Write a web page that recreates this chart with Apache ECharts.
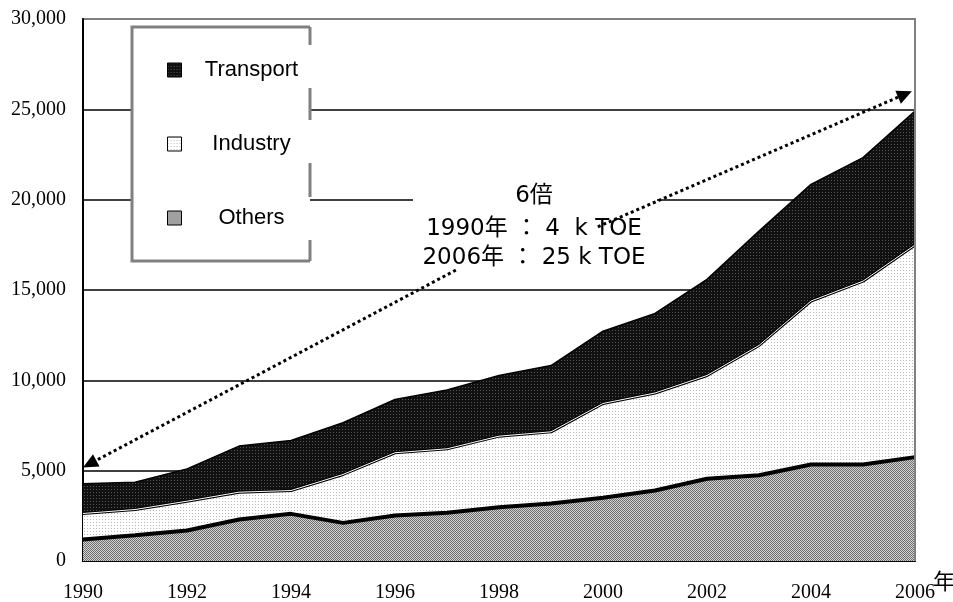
<!DOCTYPE html>
<html><head><meta charset="utf-8">
<script src="https://cdn.jsdelivr.net/npm/echarts@6/dist/echarts.min.js"></script>
<style>html,body{margin:0;padding:0;background:#fff}#c{width:953px;height:602px}</style>
</head><body><div id="c"></div>
<script>
// ---- data ----
const years = ['1990','1991','1992','1993','1994','1995','1996','1997','1998','1999','2000','2001','2002','2003','2004','2005','2006'];
const others    = [1190,1430,1690,2300,2610,2110,2520,2670,2980,3180,3500,3900,4550,4750,5340,5340,5750];
const industry  = [1440,1420,1620,1510,1290,2680,3470,3540,3930,3970,5220,5400,5720,7180,9050,10150,11740];
const transport = [1640,1510,1790,2550,2770,2860,2950,3250,3360,3670,4000,4400,5320,6330,6460,6840,7420];
const legendNames = ['Transport','Industry','Others'];
const xName = '年';
const noteLines = ['6倍','1990年 ： 4  k TOE','2006年 ： 25 k TOE'];
// annotation arrows in data space: [year, value] start -> end (arrow head at end)
const arrowLeft  = [[1997.17,16100],[1990,5180]];
const arrowRight = [[1999.9,18500],[2005.94,26000]];

(function(){
// ---- patterns ----
function makePattern(bg, dot, size, dots){
  const c = document.createElement('canvas'); c.width = size; c.height = size;
  const g = c.getContext('2d'); g.fillStyle = bg; g.fillRect(0,0,size,size);
  g.fillStyle = dot; dots.forEach(d => g.fillRect(d[0], d[1], 1, 1));
  return {image: c, repeat: 'repeat'};
}
const pat = {
  Others: makePattern('#d0d0d0', '#707070', 2, [[0,0],[1,1]]),
  Industry: makePattern('#ffffff', '#b8b8b8', 3, [[0,0]]),
  Transport: makePattern('#111111', '#555555', 3, [[0,0]])
};

const chart = echarts.init(document.getElementById('c'), null, {renderer:'canvas'});
const serifFont = 'Liberation Serif';
const gridColors = ['#000','#000','#000','#000','#000','#000','#808080'];

chart.setOption({
  animation: false,
  backgroundColor: '#fff',
  grid: {left: 83, right: 38, top: 19, bottom: 41, containLabel: false, outerBoundsMode: 'none',
         show: true, borderColor: '#808080', borderWidth: 2, backgroundColor: 'transparent'},
  legend: {
    z: 20, orient: 'vertical', left: 167, top: 59, padding: 0, itemWidth: 14, itemHeight: 14, itemGap: 52,
    selectedMode: false,
    data: legendNames.map(n => ({name: n, icon: 'rect', itemStyle: {color: pat[n], borderColor: '#000', borderWidth: 1}})),
    formatter: '{c|{name}}',
    textStyle: {rich: {c: {width: 130, align: 'center', fontSize: 22, lineHeight: 22, fontFamily: 'Liberation Sans', color: '#000'}}}
  },
  xAxis: {
    type: 'category', data: years, boundaryGap: false,
    name: xName, nameLocation: 'end', nameGap: 18, nameMoveOverlap: false,
    nameTextStyle: {fontFamily: 'Noto Sans CJK JP', fontSize: 22, color: '#000', verticalAlign: 'top', padding: [9,0,0,0]},
    axisLine: {lineStyle: {color: '#000', width: 2}},
    axisTick: {show: true, inside: true, length: 5, interval: 0, lineStyle: {color: '#000', width: 1.5}},
    axisLabel: {interval: 1, margin: 22, fontFamily: serifFont, fontSize: 20, color: '#000'},
    splitLine: {show: false}
  },
  yAxis: {
    type: 'value', min: 0, max: 30000, interval: 5000,
    axisLine: {show: true, lineStyle: {color: '#000', width: 2}},
    axisTick: {show: false},
    axisLabel: {margin: 17, fontFamily: serifFont, fontSize: 20, color: '#000',
      formatter: v => v.toLocaleString('en-US')},
    splitLine: {show: true, lineStyle: {color: gridColors, width: 1.5}}
  },
  series: [
    {name: 'Others', type: 'line', stack: 'total', data: others, symbol: 'none',
     lineStyle: {color: '#000', width: 4}, areaStyle: {color: pat.Others, opacity: 1},
     itemStyle: {color: pat.Others}},
    {name: 'Industry', type: 'line', stack: 'total', data: industry, symbol: 'none',
     lineStyle: {color: '#000', width: 3}, areaStyle: {color: pat.Industry, opacity: 1},
     itemStyle: {color: pat.Industry}},
    {name: 'Transport', type: 'line', stack: 'total', data: transport, symbol: 'none',
     lineStyle: {color: '#000', width: 1.5}, areaStyle: {color: pat.Transport, opacity: 1},
     itemStyle: {color: pat.Transport}},
    {name: 'sep', type: 'line', data: others.map((v,i) => v + industry[i]), symbol: 'none', z: 5,
     silent: true, lineStyle: {color: '#fff', width: 1}}
  ]
});

// ---- annotations ----
function toPx(pt){
  const a = chart.convertToPixel({gridIndex: 0}, [years[0], 0]);
  const b = chart.convertToPixel({gridIndex: 0}, [years[years.length-1], 0]);
  const y = chart.convertToPixel({yAxisIndex: 0}, pt[1]);
  const f = (pt[0] - Number(years[0])) / (Number(years[years.length-1]) - Number(years[0]));
  return [a[0] + f * (b[0] - a[0]), y];
}
function arrow(seg){
  const p0 = toPx(seg[0]), p1 = toPx(seg[1]);
  const dx = p1[0]-p0[0], dy = p1[1]-p0[1], L = Math.hypot(dx,dy);
  const ux = dx/L, uy = dy/L, nx = -uy, ny = ux;
  const hl = 15, hw = 7;
  const base = [p1[0]-ux*hl, p1[1]-uy*hl];
  return [
    {type: 'line', z: 30, shape: {x1: p0[0], y1: p0[1], x2: base[0]+ux*2, y2: base[1]+uy*2},
     style: {stroke: '#000', lineWidth: 3, lineDash: [3,3]}},
    {type: 'polygon', z: 30, shape: {points: [p1, [base[0]+nx*hw, base[1]+ny*hw], [base[0]-nx*hw, base[1]-ny*hw]]},
     style: {fill: '#000'}}
  ];
}
const yTop = chart.convertToPixel({yAxisIndex: 0}, 30000);
const yBot = chart.convertToPixel({yAxisIndex: 0}, 0);
const xRight = chart.convertToPixel({gridIndex: 0}, [years[years.length-1], 0])[0];

const g = [];
g.push({type: 'line', z: 15, shape: {x1: xRight, y1: yTop, x2: xRight, y2: yBot}, style: {stroke: '#808080', lineWidth: 2}});
g.push({type: 'rect', z: 10, shape: {x: 132, y: 27, width: 178, height: 234}, style: {fill: '#fff'}});
g.push({type: 'polyline', z: 11, shape: {points: [[310,27],[132,27],[132,261],[310,261]]}, style: {stroke: '#808080', lineWidth: 3, fill: null}});
g.push({type: 'line', z: 11, shape: {x1: 310, y1: 27, x2: 310, y2: 261}, style: {stroke: '#808080', lineWidth: 3, lineDash: [18,43,32,43,34,43,30]}});
g.push({type: 'rect', z: 25, shape: {x: 413, y: 178, width: 244, height: 104}, style: {fill: '#fff'}});
const ys = [196, 229, 258];
noteLines.forEach((t, i) => g.push({type: 'text', z: 26, x: 534, y: ys[i],
  style: {text: t, fill: '#000', font: '23px "DejaVu Sans", "Noto Sans CJK JP"', textAlign: 'center', textVerticalAlign: 'middle', align: 'center', verticalAlign: 'middle'}}));
arrow(arrowLeft).forEach(e => g.push(e));
arrow(arrowRight).forEach(e => g.push(e));
chart.setOption({graphic: g});
})();
</script></body></html>
